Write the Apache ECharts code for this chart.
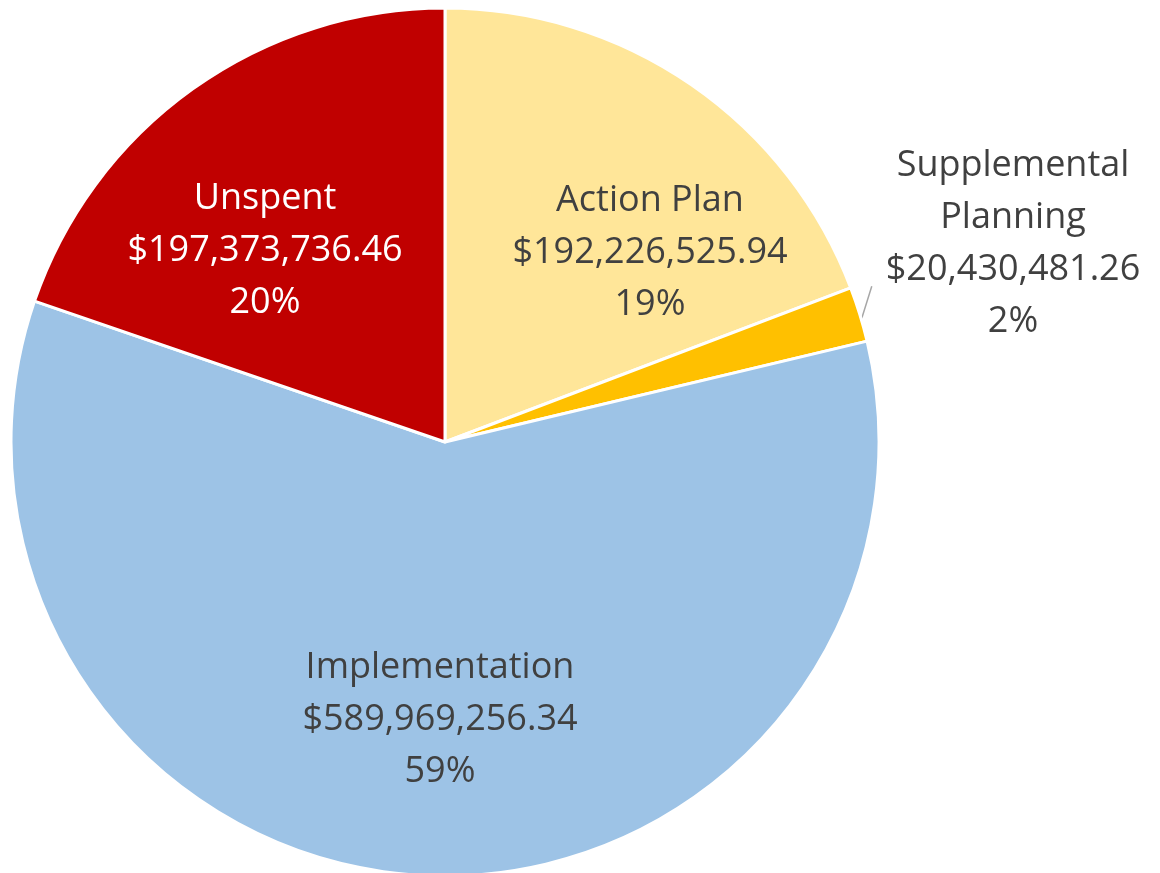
<!DOCTYPE html>
<html>
<head>
<meta charset="utf-8">
<script src="https://cdn.jsdelivr.net/npm/echarts@6/dist/echarts.min.js"></script>
<style>
  html, body { margin: 0; padding: 0; background: #fff; }
  #main { width: 1160px; height: 873px; }
</style>
</head>
<body>
<div id="main"></div>
<script>
var categories = ['Action Plan', 'Supplemental Planning', 'Implementation', 'Unspent'];
var amounts = [192226525.94, 20430481.26, 589969256.34, 197373736.46];
var colors = ['#FFE699', '#FFC000', '#9DC3E6', '#C00000'];
var textColors = ['#404040', '#404040', '#404040', '#ffffff'];

// where Excel puts each data label (centre of the text block)
var labelSpots = [[650, 253], [1013, 244], [440, 720], [265, 251]];

function money(v) {
  return '$' + v.toFixed(2).replace(/\B(?=(\d{3})+(?!\d))/g, ',');
}

var pieData = [];
for (var i = 0; i < categories.length; i++) {
  pieData.push({
    name: categories[i],
    value: amounts[i],
    itemStyle: { color: colors[i] },
    label: { color: textColors[i], position: i == 1 ? 'outside' : 'inside' },
    labelLine: { show: i == 1 }
  });
}

var myChart = echarts.init(document.getElementById('main'));
myChart.setOption({
  animation: false,
  series: [{
    type: 'pie',
    center: [445, 442],
    radius: 434,
    startAngle: 90,
    clockwise: true,
    itemStyle: { borderColor: '#fff', borderWidth: 3 },
    label: {
      fontFamily: 'Open Sans',
      fontSize: 36,
      lineHeight: 52,
      align: 'center',
      formatter: function (p) {
        var nm = p.name == 'Supplemental Planning' ? 'Supplemental\nPlanning' : p.name;
        return nm + '\n' + money(p.value) + '\n' + Math.round(p.percent) + '%';
      }
    },
    labelLine: {
      length: 10,
      length2: 0,
      lineStyle: { color: '#A6A6A6', width: 1.5 }
    },
    labelLayout: function (params) {
      var s = labelSpots[params.dataIndex];
      var out = { x: s[0], y: s[1], align: 'center', verticalAlign: 'middle' };
      if (params.labelLinePoints) {
        // leader line runs from the slice edge up to the label's lower left corner
        var p0 = params.labelLinePoints[0];
        out.labelLinePoints = [[p0[0] + 2, p0[1] + 4], [p0[0] + 12, p0[1] - 28]];
      }
      return out;
    },
    data: pieData
  }]
});
</script>
</body>
</html>
